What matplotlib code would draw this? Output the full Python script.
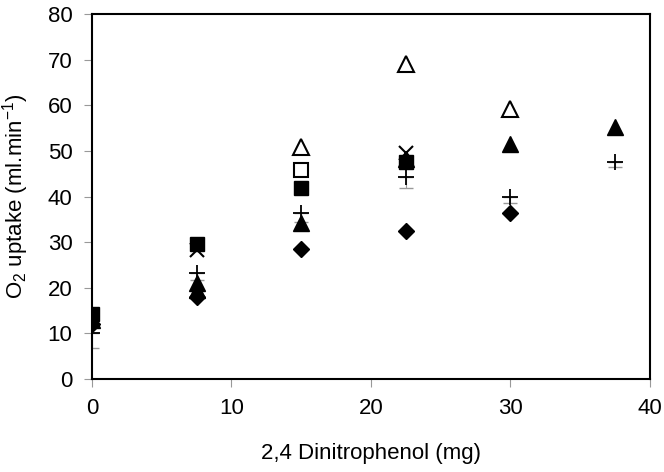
import matplotlib
matplotlib.use('Agg')
import matplotlib.pyplot as plt

plt.rcParams['font.family'] = ['Liberation Sans', 'DejaVu Sans']
plt.rcParams['mathtext.default'] = 'regular'

# O2 uptake vs 2,4 dinitrophenol dose, one list per symbol
diamond_x = [0, 7.5, 15, 22.5, 30]
diamond_y = [12, 18, 28.4, 32.5, 36.5]
fsquare_x = [0, 7.5, 15, 22.5]
fsquare_y = [14.2, 29.6, 41.9, 47.6]
osquare_x = [15]
osquare_y = [45.8]
ftri_x = [0, 7.5, 7.5, 15, 22.5, 30, 37.5]
ftri_y = [13, 21, 19.5, 34.1, 48.3, 51.5, 55.3]
otri_x = [15, 22.5, 30]
otri_y = [50.8, 69, 59.3]
cross_x = [0, 7.5, 22.5]
cross_y = [13, 28.2, 49.5]
plus_x = [0, 7.5, 15, 22.5, 30, 37.5]
plus_y = [10.0, 23.3, 36.5, 44.3, 40.0, 47.6]
plus_err = [3.2, 1.5, 2, 2.5, 1.5, 1.2]

fig = plt.figure(figsize=(6.64, 4.72), dpi=100)
ax = fig.add_axes([0.1386, 0.197, 0.840, 0.773])

ax.errorbar(plus_x, plus_y, yerr=[plus_err, [0] * len(plus_err)], fmt='none',
            ecolor='#999999', elinewidth=0.8, capsize=5, capthick=1, zorder=1)
ax.plot(diamond_x, diamond_y, 'D', color='black', ms=8.5, ls='none')
ax.plot(fsquare_x, fsquare_y, 's', color='black', ms=10, ls='none')
ax.plot(osquare_x, osquare_y, 's', mfc='white', mec='black', mew=1.5, ms=10, ls='none')
ax.plot(ftri_x, ftri_y, '^', color='black', ms=11.5, ls='none')
ax.plot(otri_x, otri_y, '^', mfc='white', mec='black', mew=1.5, ms=11.5, ls='none')
ax.plot(cross_x, cross_y, 'x', color='black', mew=1.5, ms=10, ls='none')
ax.plot(plus_x, plus_y, '+', color='black', mew=1.3, ms=12, ls='none')

ax.set_xlim(0, 40)
ax.set_ylim(0, 80)
ax.set_xticks(range(0, 41, 10))
ax.set_yticks(range(0, 81, 10))
ax.tick_params(direction='out', length=6, color='#999999', labelsize=16, pad=8)
for s in ax.spines.values():
    s.set_linewidth(1.5)
ax.set_xlabel('2,4 Dinitrophenol (mg)', fontsize=16, labelpad=17)
ax.set_ylabel('O$_2$ uptake (ml.min$^{-1}$)', fontsize=16, labelpad=12)

plt.savefig('out.png')
plt.close()
